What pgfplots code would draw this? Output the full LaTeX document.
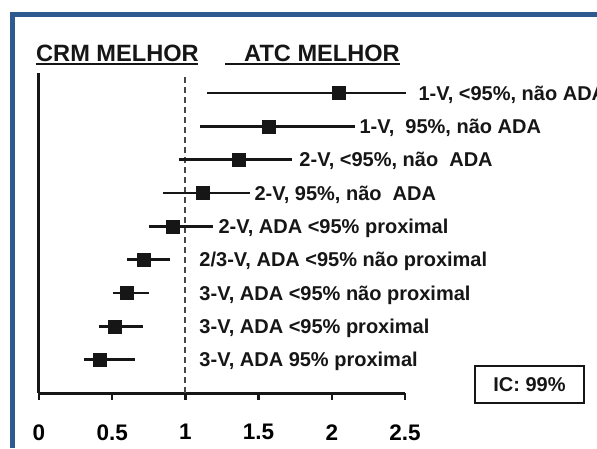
\documentclass[border=0pt]{standalone}
\usepackage{fontspec}
\setmainfont{Liberation Sans}
\usepackage{pgfplots}
\pgfplotsset{compat=1.18}
\usepackage{pgfplotstable}
\definecolor{frameblue}{RGB}{47,90,143}
\definecolor{ink}{RGB}{22,22,22}
\pgfplotstableread{
y est lo hi
9 2.05 1.148 2.51
8 1.57 1.10 2.16
7 1.366 0.956 1.73
6 1.12 0.847 1.44
5 0.915 0.75 1.19
4 0.717 0.60 0.895
3 0.60 0.505 0.75
2 0.52 0.41 0.71
1 0.417 0.307 0.656
}\data
\begin{document}
\begin{tikzpicture}[x=1pt,y=1pt]
\path[use as bounding box] (0,0) rectangle (597,448);
\fill[white] (0,0) rectangle (597,448);
\draw[frameblue, line width=5pt] (12,0) -- (12,433.5) -- (597,433.5);
\begin{axis}[
  at={(39pt,55pt)}, anchor=south west,
  scale only axis, width=366pt, height=320pt,
  xmin=0, xmax=2.5, ymin=0, ymax=9.6,
  line width=3pt,
  axis lines=left, axis line style={-, ink, line width=3pt},
  x axis line style={line width=3pt}, y axis line style={line width=3pt},
  xtick={0,0.5,1,1.5,2,2.5}, xticklabels={0,0.5,1,1.5,2,2.5},
  ytick=\empty,
  tick align=outside, major tick length=7pt,
  tick style={line width=2.5pt, ink},
  xticklabel style={font=\fontsize{22.5}{24}\selectfont\bfseries, inner sep=0pt, anchor=north, yshift=-23pt},
  /pgf/number format/assume math mode=true,
  clip=false,
]
\addplot[gray!55!black, line width=2pt, dash pattern=on 6pt off 4pt] coordinates {(1,0) (1,9.6)};
\addplot[only marks, mark=square*, mark size=6.5pt, ink, mark options={line width=0.5pt},
  error bars/.cd, x dir=both, x explicit, error mark=none,
  error bar style={line width=2.6pt, ink}]
  table[x=est, y=y, x error plus expr=\thisrow{hi}-\thisrow{est}, x error minus expr=\thisrow{est}-\thisrow{lo}] {\data};
\begin{scope}[every node/.style={anchor=base west, inner sep=0pt, yshift=-7pt, text=ink, font=\fontsize{20}{21}\selectfont\bfseries}]
\node at (axis cs:2.582,9) {1-V, <95\%, não ADA};
\node at (axis cs:2.179,8) {1-V,\ \ 95\%, não ADA};
\node at (axis cs:1.769,7) {2-V, <95\%, não\ \ ADA};
\node at (axis cs:1.462,6) {2-V, 95\%, não\ \ ADA};
\node at (axis cs:1.216,5) {2-V, ADA <95\% proximal};
\node at (axis cs:1.086,4) {2/3-V, ADA <95\% não proximal};
\node at (axis cs:1.086,3) {3-V, ADA <95\% não proximal};
\node at (axis cs:1.086,2) {3-V, ADA <95\% proximal};
\node at (axis cs:1.086,1) {3-V, ADA 95\% proximal};
\end{scope}
\end{axis}
\node[anchor=base west, inner sep=0pt, text=ink, font=\fontsize{23.6}{24}\selectfont\bfseries] at (36,386.5) {CRM MELHOR};
\draw[ink, line width=2.5pt] (36,384) -- (198,384);
\node[anchor=base east, inner sep=0pt, text=ink, font=\fontsize{23.6}{24}\selectfont\bfseries] at (400,386.5) {ATC MELHOR};
\draw[ink, line width=2.5pt] (225,384) -- (400,384);
\draw[ink, line width=2pt] (475,45) rectangle (584,82);
\node[text=ink, font=\fontsize{20}{22}\selectfont\bfseries] at (529.5,63.5) {IC: 99\%};
\end{tikzpicture}
\end{document}
